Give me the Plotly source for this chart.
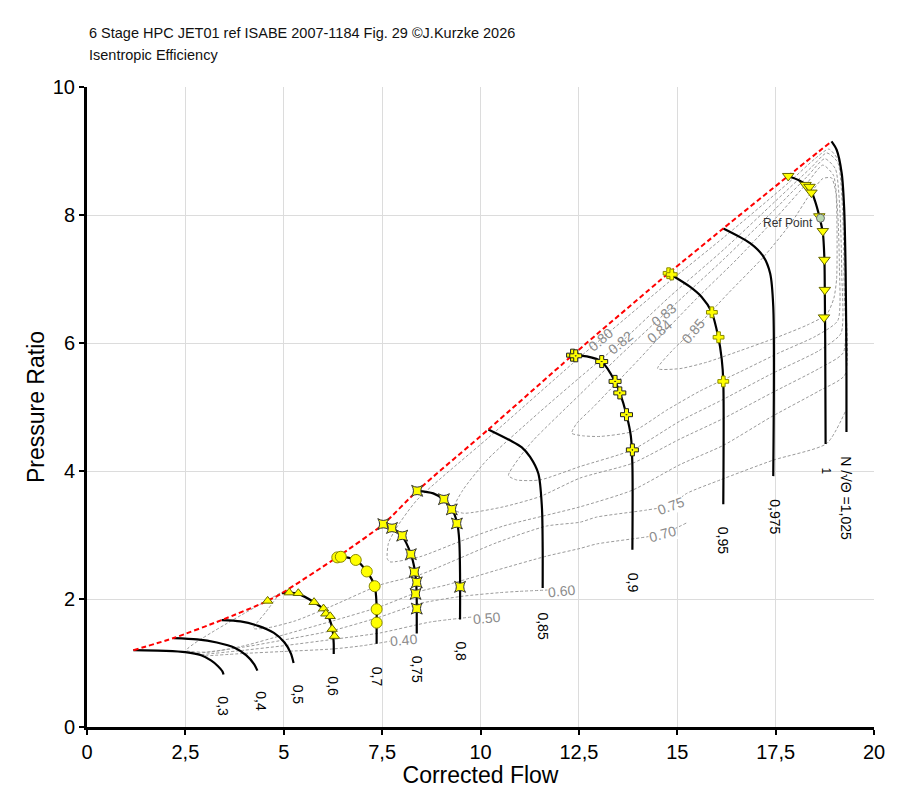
import plotly.graph_objects as go

FONT = "Liberation Sans, Arial, sans-serif"

# surge line (top point of each speed line)
surge_x = [1.18, 2.2, 3.42, 4.59, 4.95, 6.35, 7.53, 8.39, 10.2, 12.34, 14.78, 16.17, 17.82, 18.92]
surge_y = [1.20, 1.39, 1.67, 1.97, 2.09, 2.65, 3.17, 3.69, 4.65, 5.81, 7.09, 7.79, 8.61, 9.15]

# speed lines N/sqrt(theta)
n030_x = [1.18, 2.0, 2.5, 2.9, 3.15, 3.33, 3.44, 3.47]
n030_y = [1.20, 1.19, 1.17, 1.12, 1.04, 0.95, 0.87, 0.82]
n040_x = [2.2, 2.8, 3.3, 3.75, 4.05, 4.25, 4.33]
n040_y = [1.39, 1.37, 1.32, 1.24, 1.12, 0.98, 0.88]
n050_x = [3.42, 3.9, 4.35, 4.75, 5.02, 5.18, 5.25]
n050_y = [1.67, 1.65, 1.58, 1.47, 1.32, 1.15, 1.00]
n060_x = [4.95, 5.14, 5.37, 5.77, 6.01, 6.13, 6.21, 6.25, 6.27, 6.27]
n060_y = [2.09, 2.10, 2.08, 1.95, 1.84, 1.73, 1.60, 1.47, 1.30, 1.14]
n070_x = [6.35, 6.45, 6.83, 7.11, 7.31, 7.36, 7.36, 7.36]
n070_y = [2.65, 2.66, 2.61, 2.43, 2.20, 1.90, 1.60, 1.30]
n075_x = [7.53, 7.75, 8.0, 8.22, 8.33, 8.37, 8.38, 8.38, 8.38]
n075_y = [3.17, 3.11, 2.99, 2.72, 2.45, 2.20, 1.95, 1.70, 1.46]
n080_x = [8.39, 8.8, 9.07, 9.27, 9.41, 9.46, 9.48, 9.48]
n080_y = [3.69, 3.65, 3.55, 3.41, 3.18, 2.92, 2.40, 1.68]
n085_x = [10.2, 10.75, 11.05, 11.26, 11.47, 11.56, 11.58, 11.58]
n085_y = [4.65, 4.48, 4.37, 4.22, 3.96, 3.44, 2.80, 2.17]
n090_x = [12.34, 12.7, 13.08, 13.42, 13.55, 13.71, 13.82, 13.86, 13.86]
n090_y = [5.81, 5.79, 5.71, 5.40, 5.21, 4.88, 4.55, 4.10, 2.77]
n095_x = [14.78, 15.32, 15.62, 15.87, 16.04, 16.13, 16.17, 16.17]
n095_y = [7.09, 6.88, 6.72, 6.49, 6.10, 5.75, 5.40, 3.48]
n0975_x = [16.17, 16.85, 17.19, 17.36, 17.44, 17.44]
n0975_y = [7.79, 7.56, 7.35, 7.09, 6.57, 3.92]
n100_x = [17.82, 18.1, 18.36, 18.5, 18.61, 18.70, 18.74, 18.75, 18.76, 18.77]
n100_y = [8.61, 8.54, 8.43, 8.22, 7.98, 7.72, 7.30, 6.80, 6.00, 4.42]
n1025_x = [18.92, 19.05, 19.18, 19.24, 19.28, 19.30, 19.30]
n1025_y = [9.15, 9.02, 8.65, 8.13, 7.09, 5.52, 4.61]

# measured points on the speed lines
m060_x = [4.59, 5.14, 5.37, 5.77, 6.01, 6.07, 6.18, 6.23, 6.29]
m060_y = [1.97, 2.10, 2.09, 1.95, 1.85, 1.77, 1.73, 1.53, 1.42]
m070_x = [6.36, 6.45, 6.83, 7.11, 7.31, 7.36, 7.36]
m070_y = [2.65, 2.66, 2.61, 2.43, 2.20, 1.84, 1.63]
m075_x = [7.53, 7.75, 8.01, 8.23, 8.32, 8.38, 8.35, 8.38]
m075_y = [3.17, 3.11, 2.99, 2.70, 2.42, 2.26, 2.08, 1.85]
m080_x = [8.39, 9.07, 9.27, 9.40, 9.48]
m080_y = [3.69, 3.56, 3.40, 3.18, 2.19]
m090_x = [12.34, 12.42, 13.08, 13.42, 13.54, 13.71, 13.86]
m090_y = [5.81, 5.80, 5.71, 5.40, 5.22, 4.88, 4.33]
m095_x = [14.78, 14.86, 15.88, 16.05, 16.17]
m095_y = [7.09, 7.07, 6.48, 6.09, 5.40]
m100_x = [17.82, 18.26, 18.36, 18.41, 18.61, 18.70, 18.74, 18.75, 18.73]
m100_y = [8.61, 8.47, 8.44, 8.35, 7.98, 7.75, 7.30, 6.83, 6.40]

ref_x = [18.64]
ref_y = [7.95]

# speed labels
speed_text = ["0,3", "0,4", "0,5", "0,6", "0,7", "0,75", "0,8", "0,85", "0,9", "0,95", "0,975", "1",
              "N /√Θ =1,025"]
speed_lab_x = [3.46, 4.40, 5.37, 6.26, 7.36, 8.38, 9.48, 11.6, 13.88, 16.17, 17.48, 18.77, 19.28]
speed_lab_y = [0.32, 0.40, 0.50, 0.63, 0.79, 0.90, 1.18, 1.58, 2.25, 2.92, 3.28, 4.00, 3.58]

# isentropic efficiency contours
e040_x = [3.0, 4.0, 5.0, 6.26, 7.0, 7.7]
e040_y = [1.11, 1.15, 1.18, 1.22, 1.27, 1.34]
e050_x = [2.9, 4.0, 5.0, 6.26, 7.45, 8.72, 9.8]
e050_y = [1.13, 1.20, 1.27, 1.37, 1.47, 1.64, 1.72]
e060_x = [2.8, 4.0, 5.0, 6.26, 7.45, 8.46, 9.5, 10.5, 11.0, 11.7]
e060_y = [1.15, 1.25, 1.36, 1.51, 1.72, 1.93, 2.04, 2.10, 2.12, 2.14]
e070_x = [4.9, 2.53, 3.1, 4.0, 5.0, 6.26, 7.45, 8.46, 9.14, 10.41, 11.68, 12.53, 12.95, 14.22, 14.65, 15.24]
e070_y = [2.09, 1.20, 1.17, 1.27, 1.44, 1.66, 1.88, 2.12, 2.22, 2.45, 2.67, 2.79, 2.86, 2.97, 3.02, 3.19]
e075_x = [4.9, 4.55, 4.23, 4.6, 5.3, 6.26, 7.45, 8.46, 9.14, 10.41, 11.68, 12.53, 12.95, 14.22, 14.82,
          15.24, 16.09, 17.44, 18.8, 19.28]
e075_y = [2.09, 1.80, 1.54, 1.55, 1.66, 1.90, 2.22, 2.38, 2.55, 2.88, 3.14, 3.20, 3.28, 3.39, 3.46,
          3.65, 3.86, 4.17, 4.43, 4.94]
e080_x = [19.26, 19.27, 19.22, 19.1, 18.85, 18.5, 17.82, 16.2, 14.8, 13.04, 12.34, 10.2, 8.39, 7.85, 7.66,
          7.63, 7.70, 8.46, 9.48, 10.58, 12.53, 13.86, 15.07, 16.17, 17.4, 18.6, 19.26]
e080_y = [5.50, 6.80, 8.20, 8.85, 9.03, 8.88, 8.50, 7.66, 6.96, 6.05, 5.68, 4.52, 3.55, 3.10, 2.87,
          2.63, 2.58, 2.66, 2.90, 3.14, 3.44, 3.70, 4.10, 4.40, 4.85, 5.25, 5.50]
e082_x = [19.22, 19.24, 19.2, 19.08, 18.8, 18.4, 17.5, 16.2, 14.8, 13.55, 12.5, 11.5, 10.16, 9.55, 9.31,
          9.57, 10.58, 11.51, 12.53, 13.86, 15.07, 16.17, 17.4, 18.6, 19.22]
e082_y = [5.85, 6.90, 8.10, 8.82, 8.97, 8.74, 8.22, 7.47, 6.72, 6.00, 5.45, 4.92, 4.17, 3.70, 3.40,
          3.34, 3.44, 3.60, 3.89, 4.12, 4.50, 4.82, 5.22, 5.60, 5.85]
e083_x = [19.16, 19.18, 19.14, 19.02, 18.75, 18.3, 17.5, 16.2, 14.65, 13.5, 12.5, 11.34, 11.0, 10.71,
          10.92, 11.51, 12.53, 13.86, 15.07, 16.17, 17.4, 18.6, 19.16]
e083_y = [6.15, 7.10, 8.00, 8.72, 8.88, 8.60, 8.10, 7.32, 6.44, 5.78, 5.18, 4.48, 4.22, 3.93,
          3.86, 3.86, 4.07, 4.33, 4.78, 5.12, 5.52, 5.88, 6.15]
e084_x = [19.08, 19.12, 19.08, 18.97, 18.7, 18.3, 17.5, 16.5, 15.5, 14.56, 14.05, 13.46, 12.87, 12.44, 12.32,
          12.6, 13.04, 13.88, 14.73, 15.58, 16.6, 17.6, 18.5, 19.08]
e084_y = [6.35, 7.20, 8.00, 8.62, 8.78, 8.50, 7.95, 7.30, 6.70, 6.10, 5.76, 5.38, 5.00, 4.74, 4.59,
          4.55, 4.54, 4.62, 4.95, 5.25, 5.55, 5.85, 6.10, 6.35]
e085_x = [14.5, 14.9, 15.41, 16.3, 17.2, 17.9, 18.4, 18.7, 18.92, 19.03, 19.06, 19.05, 18.98, 18.8, 18.3,
          17.5, 16.6, 15.75, 15.07, 14.5]
e085_y = [5.60, 5.90, 6.20, 6.78, 7.35, 7.88, 8.35, 8.57, 8.58, 8.35, 7.80, 7.00, 6.70, 6.45, 6.28,
          6.08, 5.88, 5.70, 5.60, 5.60]

eff_text = ["0.40", "0.50", "0.60", "0.70", "0.75", "0.80", "0.82", "0.83", "0.84", "0.85"]
eff_lab_x = [8.04, 10.16, 12.07, 14.63, 14.82, 13.04, 13.55, 14.65, 14.56, 15.41]
eff_lab_y = [1.36, 1.71, 2.12, 3.01, 3.46, 6.05, 6.00, 6.44, 6.18, 6.18]
eff_lab_angle = [-5, -5, -6, -15, -20, -40, -40, -40, -40, -50]

fig = go.Figure()

# efficiency contours first so they sit under the speed lines
contours = [(e040_x, e040_y), (e050_x, e050_y), (e060_x, e060_y), (e070_x, e070_y), (e075_x, e075_y),
            (e080_x, e080_y), (e082_x, e082_y), (e083_x, e083_y), (e084_x, e084_y), (e085_x, e085_y)]
for cx, cy in contours:
    fig.add_trace(go.Scatter(x=cx, y=cy, mode="lines", hoverinfo="skip",
                             line=dict(color="#9a9a9a", width=1, dash="3px,2px", shape="spline", smoothing=0.6)))

speeds = [(n030_x, n030_y), (n040_x, n040_y), (n050_x, n050_y), (n060_x, n060_y), (n070_x, n070_y),
          (n075_x, n075_y), (n080_x, n080_y), (n085_x, n085_y), (n090_x, n090_y), (n095_x, n095_y),
          (n0975_x, n0975_y), (n100_x, n100_y), (n1025_x, n1025_y)]
for sx, sy in speeds:
    fig.add_trace(go.Scatter(x=sx, y=sy, mode="lines",
                             line=dict(color="black", width=2.2, shape="spline", smoothing=0.8)))

# surge line
fig.add_trace(go.Scatter(x=surge_x, y=surge_y, mode="lines",
                         line=dict(color="#ff0000", width=2, dash="5px,3px", shape="spline", smoothing=0.6)))

# test points
def add_points(x, y, symbol, size, edge="#333333"):
    fig.add_trace(go.Scatter(x=x, y=y, mode="markers",
                             marker=dict(symbol=symbol, size=size, color="#ffff00",
                                         line=dict(color=edge, width=1))))

add_points(m060_x, m060_y, "triangle-up", 9, "#666600")
add_points(m070_x, m070_y, "circle", 11, "#8a8a00")
add_points(m075_x, m075_y, "star-square", 10)
add_points(m080_x, m080_y, "star-square", 10)
add_points(m090_x, m090_y, "cross-dot", 10, "#222222")
add_points(m095_x, m095_y, "cross", 9, "#8a8a00")
add_points(m100_x, m100_y, "triangle-down", 10, "#666600")

fig.add_trace(go.Scatter(x=ref_x, y=ref_y, mode="markers",
                         marker=dict(symbol="circle", size=8, color="#b9d8b0", line=dict(color="#6a6a6a", width=1))))

annotations = []
for t, x, y in zip(speed_text, speed_lab_x, speed_lab_y):
    annotations.append(dict(x=x, y=y, text=t, showarrow=False, textangle=90,
                            font=dict(family=FONT, size=14 if t != "1" else 12, color="black")))

for t, x, y, a in zip(eff_text, eff_lab_x, eff_lab_y, eff_lab_angle):
    bg = "white" if t in ("0.70", "0.75") else None
    annotations.append(dict(x=x, y=y, text=t, showarrow=False, textangle=a, bgcolor=bg, borderpad=0,
                            font=dict(family=FONT, size=14, color="#8c8c8c")))

annotations.append(dict(x=18.5, y=7.87, text="Ref Point", showarrow=False, xanchor="right",
                        font=dict(family=FONT, size=12, color="#333333")))

# header text
annotations.append(dict(xref="paper", yref="paper", x=0.0, y=1.084, xanchor="left", yanchor="middle",
                        text="6 Stage HPC JET01 ref ISABE 2007-1184 Fig. 29 ©J.Kurzke 2026", showarrow=False,
                        font=dict(family=FONT, size=14.5, color="#111111")))
annotations.append(dict(xref="paper", yref="paper", x=0.0, y=1.05, xanchor="left", yanchor="middle",
                        text="Isentropic Efficiency", showarrow=False,
                        font=dict(family=FONT, size=14.5, color="#111111")))

# page body adds 8px, so the figure is kept a bit smaller than the window
fig.update_layout(
    width=884, height=780,
    margin=dict(l=79, r=18, t=79, b=61),
    plot_bgcolor="white", paper_bgcolor="white",
    showlegend=False,
    separators=", ",
    font=dict(family=FONT, color="black"),
    annotations=annotations,
)
fig.update_xaxes(range=[0, 20], dtick=2.5, tick0=0, showgrid=True, gridcolor="#dcdcdc", gridwidth=1,
                 zeroline=False, showline=True, linecolor="black", linewidth=3, automargin=False,
                 ticks="outside", ticklen=5, tickwidth=1.5, tickcolor="black",
                 tickfont=dict(size=20, family=FONT),
                 title=dict(text="Corrected Flow", font=dict(size=23, family=FONT), standoff=2))
fig.update_yaxes(range=[0, 10], dtick=2, tick0=0, showgrid=True, gridcolor="#dcdcdc", gridwidth=1,
                 zeroline=False, showline=True, linecolor="black", linewidth=3, automargin=False,
                 ticks="outside", ticklen=5, tickwidth=1.5, tickcolor="black",
                 tickfont=dict(size=20, family=FONT),
                 title=dict(text="Pressure Ratio", font=dict(size=23, family=FONT), standoff=2))

fig.write_html("out.html")
